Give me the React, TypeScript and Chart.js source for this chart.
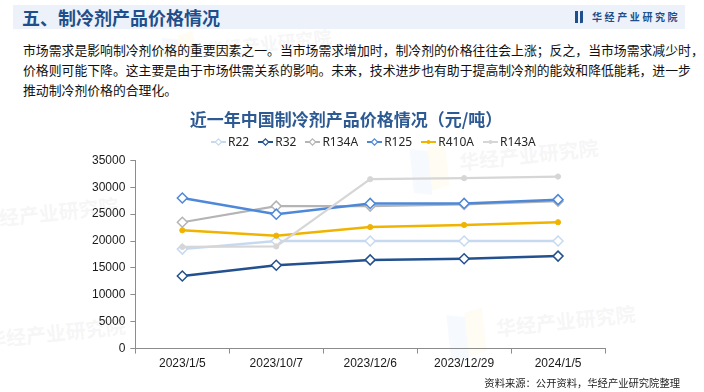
import React, { useEffect, useRef } from "react";
import { Chart, registerables } from "chart.js";

Chart.register(...registerables);

const categories = ["2023/1/5", "2023/10/7", "2023/12/6", "2023/12/29", "2024/1/5"];
const seriesNames = ["R22", "R32", "R134A", "R125", "R410A", "R143A"];
const r22 = [18500, 20000, 20000, 20000, 20000];
const r32 = [13500, 15500, 16500, 16700, 17200];
const r134a = [23500, 26500, 26500, 26800, 27400];
const r125 = [28000, 25000, 27000, 27000, 27700];
const r410a = [22000, 21000, 22600, 23000, 23500];
const r143a = [18900, 19000, 31500, 31700, 32000];
const yTicks = [0, 5000, 10000, 15000, 20000, 25000, 30000, 35000];

const seriesValues = [r22, r32, r134a, r125, r410a, r143a];
const seriesColors = ["#c6d9f1", "#23508f", "#b4b4b4", "#4e88d8", "#f0b400", "#d6d6d6"];
const seriesMarkers = ["diamond", "diamond", "diamond", "diamond", "dot", "dot"];

const CJK = '"Noto Sans CJK SC", "Noto Sans", sans-serif';
const WM = "华经产业研究院";

function LegendMark({ color, marker }: { color: string; marker: string }) {
  return (
    <svg width={15} height={10} style={{ display: "block" }}>
      <line x1={0} y1={5} x2={15} y2={5} stroke={color} strokeWidth={2} />
      {marker === "diamond" ? (
        <polygon points="7.5,1.8 10.7,5 7.5,8.2 4.3,5" fill="#fff" stroke={color} strokeWidth={1.2} />
      ) : (
        <circle cx={7.5} cy={5} r={2} fill={color} />
      )}
    </svg>
  );
}

function Watermark({ x, y, size }: { x: number; y: number; size: number }) {
  return (
    <div style={{ position: "absolute", left: x, top: y, transform: "rotate(-6deg)", transformOrigin: "left top", pointerEvents: "none" }}>
      <div style={{ position: "absolute", left: -size * 2.4, top: -size * 0.3, width: size * 0.9, height: size * 2.2, background: "rgba(190,210,240,0.14)", transform: "skewY(12deg)" }} />
      <div style={{ position: "absolute", left: -size * 1.5, top: -size * 0.5, width: size * 0.9, height: size * 2.2, background: "rgba(250,235,180,0.16)", transform: "skewY(-12deg)" }} />
      <div style={{ fontFamily: CJK, fontWeight: 700, fontSize: size, color: "rgba(200,200,200,0.18)", whiteSpace: "nowrap", lineHeight: 1 }}>{WM}</div>
    </div>
  );
}

export default function App() {
  const canvasRef = useRef<HTMLCanvasElement | null>(null);

  useEffect(() => {
    document.body.style.margin = "0";
    const ctx = canvasRef.current;
    if (!ctx) return;
    const n = seriesNames.length;
    const chart = new Chart(ctx, {
      type: "line",
      data: {
        labels: categories,
        datasets: seriesNames.map((name, i) => {
          const c = seriesColors[i];
          const diamond = seriesMarkers[i] === "diamond";
          return {
            label: name,
            data: seriesValues[i],
            borderColor: c,
            backgroundColor: c,
            borderWidth: i === 2 || i === 5 ? 2.2 : 2.5,
            tension: 0,
            order: n - i,
            pointStyle: diamond ? "rectRot" : "circle",
            pointRadius: diamond ? 5 : 2.6,
            pointBorderWidth: diamond ? 1.5 : 1,
            pointBackgroundColor: diamond ? "#ffffff" : c,
            pointBorderColor: c,
          };
        }),
      },
      options: {
        responsive: false,
        animation: false,
        maintainAspectRatio: false,
        layout: { padding: { left: 87, right: 99, top: 0, bottom: 2 } },
        plugins: {
          legend: { display: false },
          tooltip: { enabled: false },
          title: {
            display: true,
            text: "近一年中国制冷剂产品价格情况（元/吨）",
            color: "#2e5a94",
            font: { family: CJK, size: 17, weight: "bold" },
            padding: { top: 9, bottom: 31 },
          },
        },
        scales: {
          x: {
            type: "category",
            offset: true,
            grid: { display: true, drawOnChartArea: false, offset: true, tickLength: 5, color: "#8c8c8c" },
            border: { display: true, color: "#8c8c8c", width: 1 },
            ticks: { color: "#1a1a1a", font: { family: '"Liberation Sans", Arial, sans-serif', size: 12 }, padding: 3, maxRotation: 0 },
          },
          y: {
            min: 0,
            max: 35000,
            afterBuildTicks: (axis: any) => {
              axis.ticks = yTicks.map((v) => ({ value: v }));
            },
            grid: { display: true, drawOnChartArea: false, tickLength: 5, color: "#8c8c8c" },
            border: { display: true, color: "#8c8c8c", width: 1 },
            ticks: {
              color: "#1a1a1a",
              font: { family: '"Liberation Sans", Arial, sans-serif', size: 12 },
              padding: 5,
              callback: (v: any) => String(v),
            },
          },
        },
      },
    });
    return () => chart.destroy();
  }, []);

  return (
    <div style={{ position: "fixed", left: 0, top: 0, width: 704, height: 392, background: "#fff", overflow: "hidden" }}>
      <Watermark x={458} y={152} size={20} />
      <Watermark x={-22} y={210} size={20} />
      <Watermark x={495} y={318} size={20} />
      <Watermark x={-15} y={330} size={20} />
      <Watermark x={205} y={40} size={18} />
      <div style={{ position: "absolute", left: 13, top: 5, width: 672, height: 24, background: "#edf2fa" }} />
      <div style={{ position: "absolute", left: 22, top: 5, height: 24, lineHeight: "24px", fontFamily: CJK, fontWeight: 700, fontSize: 18, color: "#1f4e8c", whiteSpace: "nowrap" }}>
        五、制冷剂产品价格情况
      </div>
      <div style={{ position: "absolute", left: 575, top: 11, width: 3, height: 12, background: "#1f4e8c" }} />
      <div style={{ position: "absolute", left: 580, top: 11, width: 3, height: 12, background: "#1f4e8c", transform: "skewY(-10deg)" }} />
      <div style={{ position: "absolute", left: 592, top: 9, lineHeight: "16px", fontFamily: CJK, fontWeight: 700, fontSize: 10, letterSpacing: 2.6, color: "#1f4e8c", whiteSpace: "nowrap" }}>
        华经产业研究院
      </div>
      <div style={{ position: "absolute", left: 23, top: 40, fontFamily: CJK, fontSize: 12.85, lineHeight: "20px", color: "#111", whiteSpace: "nowrap" }}>
        <div>市场需求是影响制冷剂价格的重要因素之一。当市场需求增加时，制冷剂的价格往往会上涨；反之，当市场需求减少时，</div>
        <div>价格则可能下降。这主要是由于市场供需关系的影响。未来，技术进步也有助于提高制冷剂的能效和降低能耗，进一步</div>
        <div>推动制冷剂价格的合理化。</div>
      </div>
      <canvas ref={canvasRef} width={704} height={276} style={{ position: "absolute", left: 0, top: 100, width: 704, height: 276 }} />
      <div style={{ position: "absolute", left: 211, top: 134, height: 16, display: "flex", alignItems: "center", fontFamily: '"Noto Sans", sans-serif', fontSize: 12, color: "#262626", whiteSpace: "nowrap" }}>
        {seriesNames.map((name, i) => (
          <div key={name} style={{ display: "flex", alignItems: "center", marginRight: 9 }}>
            <LegendMark color={seriesColors[i]} marker={seriesMarkers[i]} />
            <span style={{ marginLeft: 2, lineHeight: "16px" }}>{name}</span>
          </div>
        ))}
      </div>
      <div style={{ position: "absolute", right: 24, top: 375, lineHeight: "16px", fontFamily: CJK, fontSize: 10.3, color: "#222", whiteSpace: "nowrap" }}>
        资料来源：公开资料，华经产业研究院整理
      </div>
    </div>
  );
}
